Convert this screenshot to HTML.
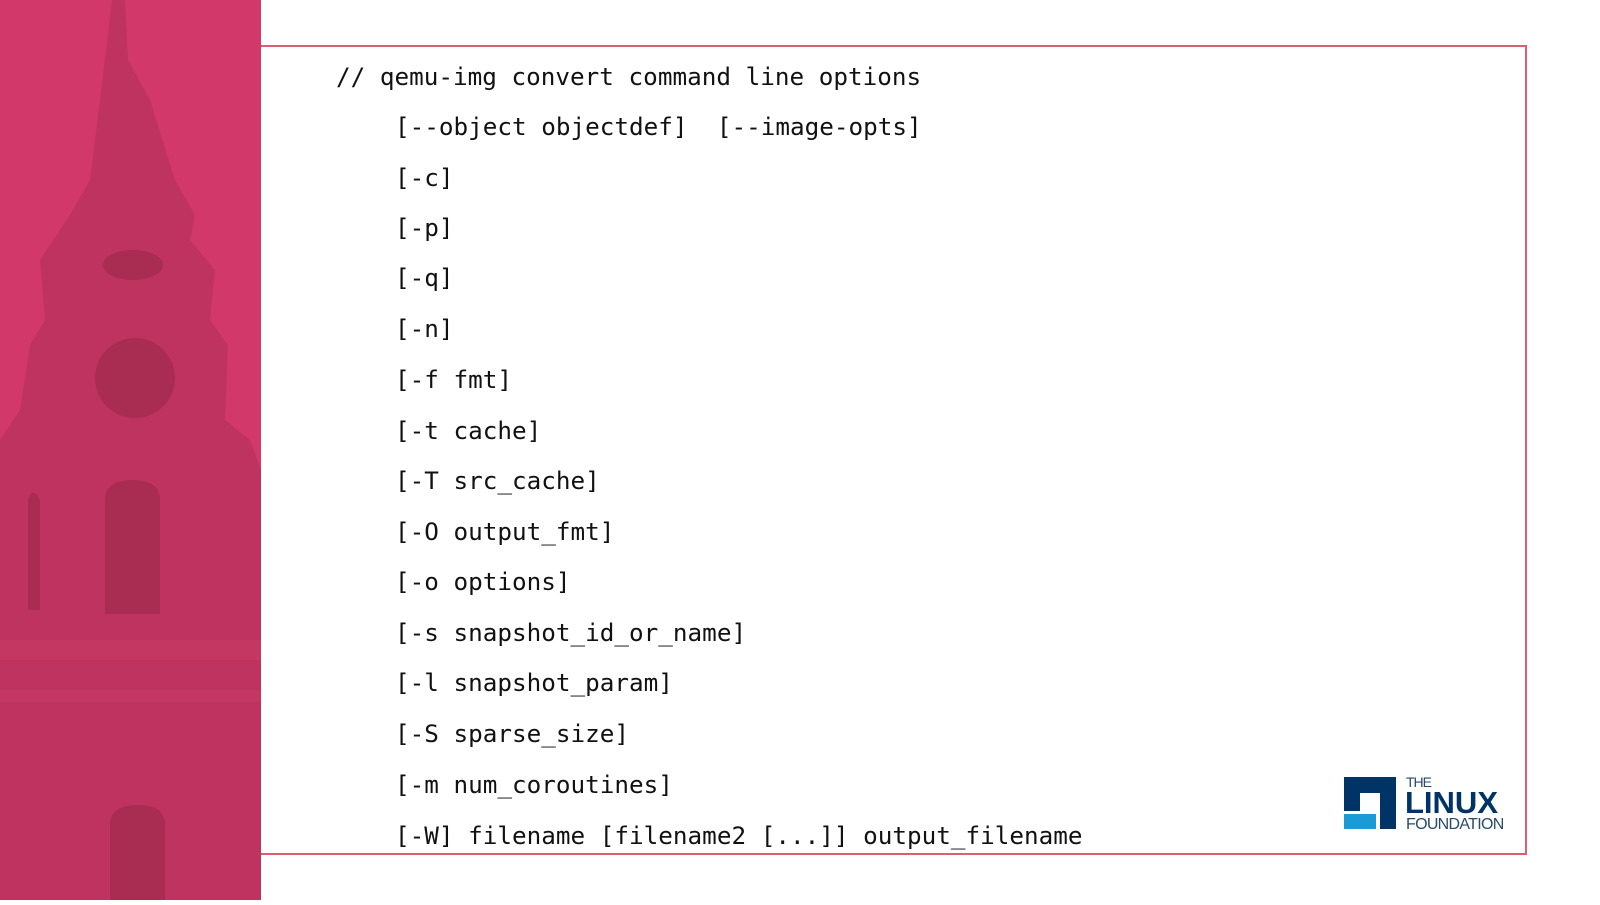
<!DOCTYPE html>
<html><head><style>
html,body{margin:0;padding:0;width:1600px;height:900px;overflow:hidden;background:#fff;}
#strip{position:absolute;left:0;top:0;width:261px;height:900px;background:#d2386a;}
#box{position:absolute;left:261px;top:45px;width:1264px;height:806px;border:2px solid #d9606e;border-left:none;}
.t{position:absolute;font-family:"DejaVu Sans Mono","Liberation Mono",monospace;font-size:24.3px;color:#111;white-space:pre;line-height:30px;}
</style></head><body>
<div id="strip">
<svg width="261" height="900" viewBox="0 0 261 900">
<g fill="#bf3360">
<path d="M112 0 L125 0 L128 60 L150 100 L175 180 L195 215 L190 240 L215 270 L210 320 L228 345 L225 420 L250 440 L261 470 L261 900 L0 900 L0 440 L20 410 L30 345 L45 320 L40 260 L70 215 L90 180 L100 100 Z"/>
</g>
<g fill="#a92c52">
<ellipse cx="135" cy="378" rx="40" ry="40"/>
<path d="M105 500 Q105 480 132 480 Q160 480 160 500 L160 614 L105 614 Z"/>
<path d="M110 825 Q110 805 138 805 Q165 805 165 825 L165 900 L110 900 Z"/>
<path d="M28 500 Q33 485 40 500 L40 610 L28 610 Z"/>
<ellipse cx="133" cy="265" rx="30" ry="15"/>
</g>
<g fill="#c53763"><rect x="0" y="640" width="261" height="20"/><rect x="0" y="690" width="261" height="12"/></g>
</svg>
</div>
<div id="box"></div>
<div class="t" style="left:336px;top:62px">// qemu-img convert command line options</div>
<div class="t" style="left:395px;top:112px">[--object objectdef]  [--image-opts]</div>
<div class="t" style="left:395px;top:163px">[-c]</div>
<div class="t" style="left:395px;top:213px">[-p]</div>
<div class="t" style="left:395px;top:263px">[-q]</div>
<div class="t" style="left:395px;top:314px">[-n]</div>
<div class="t" style="left:395px;top:365px">[-f fmt]</div>
<div class="t" style="left:395px;top:416px">[-t cache]</div>
<div class="t" style="left:395px;top:466px">[-T src_cache]</div>
<div class="t" style="left:395px;top:517px">[-O output_fmt]</div>
<div class="t" style="left:395px;top:567px">[-o options]</div>
<div class="t" style="left:395px;top:618px">[-s snapshot_id_or_name]</div>
<div class="t" style="left:395px;top:668px">[-l snapshot_param]</div>
<div class="t" style="left:395px;top:719px">[-S sparse_size]</div>
<div class="t" style="left:395px;top:770px">[-m num_coroutines]</div>
<div class="t" style="left:395px;top:821px">[-W] filename [filename2 [...]] output_filename</div>
<svg style="position:absolute;left:1340px;top:770px" width="190" height="70">
<path d="M4 7 L56 7 L56 59 L40 59 L40 23 L20 23 L20 41 L4 41 Z" fill="#003366"/>
<rect x="4" y="44" width="32" height="15" fill="#1a9ad6"/>
<text x="66" y="17" font-family="Liberation Sans,sans-serif" font-size="14" fill="#2a4a6a" letter-spacing="-1">THE</text>
<text x="65" y="43" font-family="Liberation Sans,sans-serif" font-size="31" font-weight="bold" fill="#003366">LINUX</text>
<text x="66" y="59" font-family="Liberation Sans,sans-serif" font-size="16" fill="#2a4a6a" letter-spacing="-0.7">FOUNDATION</text>
</svg>
</body></html>
